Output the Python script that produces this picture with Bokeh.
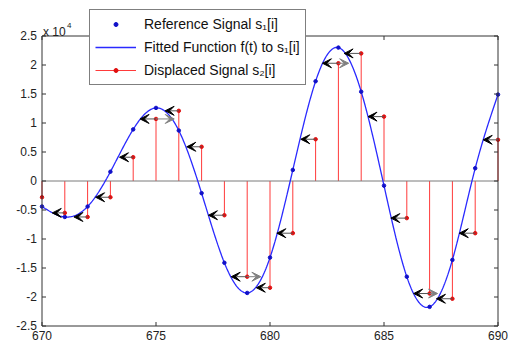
import numpy as np
from bokeh.plotting import figure
from bokeh.models import (Range1d, Arrow, VeeHead, ColumnDataSource, Legend, LegendItem)
from bokeh.core.properties import value
from bokeh.embed import file_html
from bokeh.resources import INLINE

# ---- data (values in units of 1e4) ----
t = list(range(670, 691))
s1 = [-0.44, -0.62, -0.44, 0.16, 0.89, 1.26, 0.87, -0.21, -1.41, -1.93, -1.32,
      0.19, 1.72, 2.30, 1.54, -0.08, -1.65, -2.17, -1.36, 0.22, 1.49]
s2 = [-0.28, -0.55, -0.62, -0.28, 0.41, 1.07, 1.21, 0.59, -0.59, -1.65, -1.84,
      -0.90, 0.72, 2.03, 2.20, 1.11, -0.64, -1.94, -2.03, -0.90, 0.71]
# arrows pointing left: from sample index to the time where f(t) = s2
left_from = [671, 672, 673, 674, 675, 676, 677, 678, 679, 680,
             681, 682, 683, 684, 685, 686, 687, 688, 689, 690]
left_to = [670.45, 671.4, 672.35, 673.4, 674.3, 675.4, 676.35, 677.3, 678.3, 679.4,
           680.3, 681.35, 682.3, 683.25, 684.3, 685.3, 686.3, 687.3, 688.3, 689.35]
# arrows pointing right
right_from = [675, 679, 683, 687]
right_to = [675.8, 679.6, 683.45, 687.35]

x_ticks = [670, 675, 680, 685, 690]
x_tick_labels = ["670", "675", "680", "685", "690"]
y_ticks = [-2.5, -2, -1.5, -1, -0.5, 0, 0.5, 1, 1.5, 2, 2.5]
y_tick_labels = ["-2.5", "-2", "-1.5", "-1", "-0.5", "0", "0.5", "1", "1.5", "2", "2.5"]
X0, X1 = x_ticks[0], x_ticks[-1]
Y0, Y1 = y_ticks[0], y_ticks[-1]


def natural_spline(xk, yk, xs):
    xk = np.asarray(xk, float); yk = np.asarray(yk, float)
    n = len(xk)
    h = np.diff(xk)
    A = np.zeros((n, n)); b = np.zeros(n)
    A[0, 0] = 1; A[-1, -1] = 1
    for i in range(1, n - 1):
        A[i, i - 1] = h[i - 1]; A[i, i] = 2 * (h[i - 1] + h[i]); A[i, i + 1] = h[i]
        b[i] = 3 * ((yk[i + 1] - yk[i]) / h[i] - (yk[i] - yk[i - 1]) / h[i - 1])
    c = np.linalg.solve(A, b)
    bb = (yk[1:] - yk[:-1]) / h - h * (2 * c[:-1] + c[1:]) / 3
    d = (c[1:] - c[:-1]) / (3 * h)
    idx = np.clip(np.searchsorted(xk, xs) - 1, 0, n - 2)
    dx = xs - xk[idx]
    return yk[idx] + bb[idx] * dx + c[idx] * dx ** 2 + d[idx] * dx ** 3


tf = np.linspace(t[0], t[-1], 600)
ff = natural_spline(t, s1, tf)

# ---- layout in pixels (the frame covers the whole canvas) ----
FIG_W, FIG_H = 508, 344
BOX_L, BOX_R = 41.5, 497.5
BOX_T, BOX_B = 35.5, 325.5
ppx = (BOX_R - BOX_L) / (X1 - X0)
ppy = (BOX_B - BOX_T) / (Y1 - Y0)
xr = Range1d(X0 - BOX_L / ppx, X1 + (FIG_W - BOX_R) / ppx)
yr = Range1d(Y0 - (FIG_H - BOX_B) / ppy, Y1 + BOX_T / ppy)
TICK = 4
tdx, tdy = TICK / ppx, TICK / ppy

FONT = "Liberation Sans"
AX = "#333333"
TXT = "#222222"
BLUE = "#2a2aff"

p = figure(width=FIG_W, height=FIG_H, x_range=xr, y_range=yr,
           output_backend="svg", toolbar_location=None,
           x_axis_location=None, y_axis_location=None,
           min_border_left=0, min_border_right=0, min_border_top=0, min_border_bottom=0)
p.grid.visible = False
p.outline_line_color = None
p.background_fill_color = "white"
p.border_fill_color = "white"

# tick labels
p.text(x=x_ticks, y=[Y0] * len(x_ticks), text=x_tick_labels, text_align="center",
       text_baseline="top", y_offset=5, text_font=value(FONT), text_font_size="12px",
       text_color=TXT)
p.text(x=[X0] * len(y_ticks), y=y_ticks, text=y_tick_labels, text_align="right",
       text_baseline="middle", x_offset=-5, y_offset=-1, text_font=value(FONT),
       text_font_size="12px", text_color=TXT)

# stems
stem_src = ColumnDataSource(dict(t=t, s2=s2, zero=[0] * len(t)))
stems = p.segment(x0="t", y0="zero", x1="t", y1="s2", source=stem_src,
                  line_color="#ff3a3a", line_width=1)
# zero baseline
p.line(x=[t[0], t[-1]], y=[0, 0], line_color="#7a7a7a", line_width=1)

curve = p.line(tf, ff, line_color=BLUE, line_width=1.3)
dots1 = p.scatter(t, s1, size=3.5, color="#1010c8")
dots2 = p.scatter(x="t", y="s2", source=stem_src, size=3.5, color="#e01010")

lsrc = ColumnDataSource(dict(x0=left_from, x1=left_to,
                             y=[s2[t.index(i)] for i in left_from]))
p.add_layout(Arrow(end=VeeHead(size=9, fill_color="black", line_color="black", line_width=1),
                   x_start="x0", y_start="y", x_end="x1", y_end="y", source=lsrc,
                   line_color="#555555", line_width=1))
rsrc = ColumnDataSource(dict(x0=right_from, x1=right_to,
                             y=[s2[t.index(i)] for i in right_from]))
p.add_layout(Arrow(end=VeeHead(size=9, fill_color="#808080", line_color="#808080", line_width=1),
                   x_start="x0", y_start="y", x_end="x1", y_end="y", source=rsrc,
                   line_color="#808080", line_width=1))

# plot box and inward ticks
box = p.line(x=[X0, X1, X1, X0, X0], y=[Y1, Y1, Y0, Y0, Y1], line_color=AX, line_width=1)
p.segment(x0=[X0] * len(y_ticks), y0=y_ticks, x1=[X0 + tdx] * len(y_ticks), y1=y_ticks,
          line_color=AX, line_width=1)
p.segment(x0=[X1] * len(y_ticks), y0=y_ticks, x1=[X1 - tdx] * len(y_ticks), y1=y_ticks,
          line_color=AX, line_width=1)
p.segment(x0=x_ticks, y0=[Y0] * len(x_ticks), x1=x_ticks, y1=[Y0 + tdy] * len(x_ticks),
          line_color=AX, line_width=1)
p.segment(x0=x_ticks, y0=[Y1] * len(x_ticks), x1=x_ticks, y1=[Y1 - tdy] * len(x_ticks),
          line_color=AX, line_width=1)

# exponent label
p.text(x=[X0], y=[Y1], text=["x 10"], x_offset=1, y_offset=-4, text_baseline="alphabetic",
       text_font=value(FONT), text_font_size="12px", text_color=TXT)
p.text(x=[X0], y=[Y1], text=["4"], x_offset=25, y_offset=-11, text_baseline="alphabetic",
       text_font=value(FONT), text_font_size="8px", text_color=TXT)

legend = Legend(items=[
    LegendItem(label="Reference Signal s\u2081[i]", renderers=[dots1]),
    LegendItem(label="Fitted Function f(t) to s\u2081[i]", renderers=[curve]),
    LegendItem(label="Displaced Signal s\u2082[i]", renderers=[stems, dots2]),
], location=(89, FIG_H - 85))
legend.label_text_font = FONT
legend.label_text_font_size = "14px"
legend.label_text_color = "#111111"
legend.glyph_width = 41
legend.glyph_height = 10
legend.label_height = 18
legend.spacing = 5
legend.padding = 5
legend.margin = 0
legend.label_standoff = 8
legend.border_line_color = "black"
legend.border_line_width = 1
legend.background_fill_alpha = 1
p.add_layout(legend, "center")

open("out.html", "w").write(file_html(p, INLINE))
